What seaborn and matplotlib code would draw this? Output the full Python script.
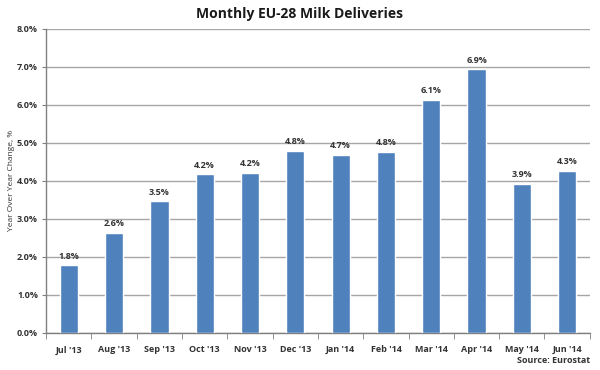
import matplotlib
matplotlib.use('Agg')
import matplotlib.pyplot as plt
import numpy as np
import pandas as pd
import seaborn as sns

# Data
months = ["Jul '13", "Aug '13", "Sep '13", "Oct '13", "Nov '13", "Dec '13",
          "Jan '14", "Feb '14", "Mar '14", "Apr '14", "May '14", "Jun '14"]
yoy_change = [1.78, 2.63, 3.46, 4.18, 4.21, 4.79, 4.69, 4.76, 6.14, 6.94, 3.93, 4.26]
y_ticks = [0, 1, 2, 3, 4, 5, 6, 7, 8]

df = pd.DataFrame({'month': months, 'change': yoy_change})

sns.set_style('white')
plt.rcParams['font.family'] = ['Open Sans', 'DejaVu Sans']

fig = plt.figure(figsize=(6, 3.7), dpi=100)
ax = fig.add_axes([0.077, 0.1, 0.906, 0.822])

sns.barplot(x='month', y='change', data=df, color='#4F81BD', width=0.4,
            saturation=1, ax=ax, zorder=3)

# value labels
for i, v in enumerate(yoy_change):
    ax.text(i, v + 0.12, f'{v:.1f}%', ha='center', va='bottom', fontsize=6.5,
            color='#333333', fontweight='bold')

ax.set_ylim(0, 8)
ax.set_xlim(-0.5, len(months) - 0.5)
ax.set_yticks(y_ticks)
ax.set_yticklabels([f'{t:.1f}%' for t in y_ticks], fontsize=6.5, fontweight='bold', color='#333333')
ax.yaxis.grid(True, color='#A6A6A6', linewidth=1, zorder=0)
ax.set_axisbelow(True)

# ticks between categories
ax.set_xticks(np.arange(len(months)))
ax.set_xticklabels(months, fontsize=6.5, fontweight='bold', color='#333333')
ax.set_xticks(np.arange(-0.5, len(months)), minor=True)
ax.tick_params(axis='x', which='major', length=0, pad=9)
ax.tick_params(axis='x', which='minor', length=4, color='#808080', direction='out', bottom=True)
ax.tick_params(axis='y', length=3, color='#808080', direction='out', left=True, pad=3)

ax.set_xlabel('')
ax.set_ylabel('Year Over Year Change, %', fontsize=6, color='#333333', labelpad=1)

for s in ['top', 'right']:
    ax.spines[s].set_visible(False)
for s in ['left', 'bottom']:
    ax.spines[s].set_color('#808080')
    ax.spines[s].set_linewidth(1)

fig.text(0.5, 0.963, 'Monthly EU-28 Milk Deliveries', ha='center', va='center',
         fontsize=10, fontweight='bold', color='#1a1a1a')
fig.text(0.983, 0.025, 'Source: Eurostat', ha='right', va='center', fontsize=6.5,
         fontweight='bold', color='#333333')

fig.savefig('out.png', dpi=100)
